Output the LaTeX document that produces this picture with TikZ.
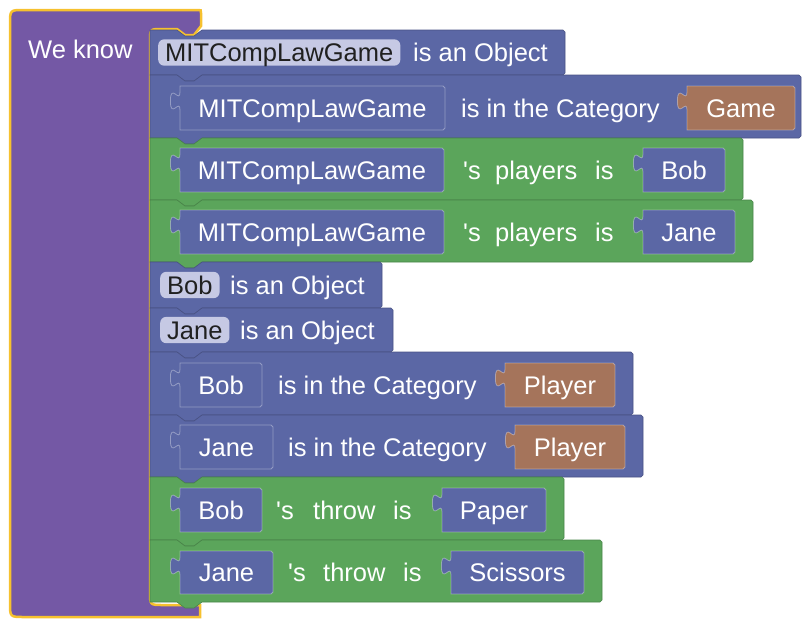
\documentclass[tikz,border=0pt]{standalone}
\usepackage{fontspec}
\setmainfont{Liberation Sans}
\definecolor{kpurple}{HTML}{7458A5}
\definecolor{kyellow}{HTML}{F6C12F}
\definecolor{kblue}{HTML}{5B67A5}
\definecolor{kgreen}{HTML}{5BA55B}
\definecolor{kbrown}{HTML}{A5745B}
\definecolor{kpill}{HTML}{C6C9E4}
\definecolor{kdark}{HTML}{202020}
\newcommand\stmtblk[4]{%
  \draw[fill=#4, draw=#4!80!black, line width=0.6pt]
    (150,#1) -- (177,#1) -- (185,{#1+6}) -- (194,{#1+6}) -- (202,#1)
    -- ({#3-2},#1) -- (#3,{#1+2}) -- (#3,{#2-2}) -- ({#3-2},#2)
    -- (202,#2) -- (194,{#2+6}) -- (185,{#2+6}) -- (177,#2) -- (150,#2) -- cycle;}
\newcommand\valblk[5]{%
  \draw[fill=#5, draw=white, draw opacity=0.35, line width=0.8pt]
    (#1,#3) -- (#1,{#3+6})
    .. controls (#1,{#3+18}) and ({#1-9.6},{#3-3.6}) .. ({#1-9.6},{#3+15})
    .. controls ({#1-9.6},{#3+33.6}) and (#1,{#3+12}) .. (#1,{#3+24})
    -- (#1,#4) -- ({#2-2},#4) -- (#2,{#4-2}) -- (#2,{#3+2}) -- ({#2-2},#3) -- cycle;}
\begin{document}
\begin{tikzpicture}[x=1pt,y=-1pt,
  font=\fontsize{25.5}{30}\selectfont,
  lbl/.style={text=white, text height=18.3pt, text depth=0pt, inner sep=0pt},
  lblw/.style={lbl, anchor=west},
  pill/.style={fill=kpill, text=kdark, rounded corners=6pt, text height=18.3pt,
    text depth=0pt, inner xsep=7pt, inner ysep=4pt, minimum height=26pt, anchor=west}]
\useasboundingbox (0,0) rectangle (802,619);
% outer "We know" block
\draw[fill=kpurple, draw=kyellow, line width=2.5pt]
  (10,24) .. controls (10,10) .. (24,10) -- (198,10) .. controls (201,10) .. (201,13)
  -- (201,26) -- (194,35) -- (185,35) -- (177,29) -- (162,29)
  .. controls (150,29) .. (150,41) -- (150,592) .. controls (150,605) .. (163,605)
  -- (200,605) -- (200,617) -- (24,617) .. controls (10,617) .. (10,603) -- cycle;
\node[lblw] (weknow) at (28,49.5) {We know};
% statement blocks
\stmtblk{30}{75}{565}{kblue}
\stmtblk{75}{138}{801}{kblue}
\stmtblk{138}{200}{743}{kgreen}
\stmtblk{200}{262}{753}{kgreen}
\stmtblk{262}{308}{382}{kblue}
\stmtblk{308}{352}{393}{kblue}
\stmtblk{352}{415}{633}{kblue}
\stmtblk{415}{477}{643}{kblue}
\stmtblk{477}{540}{564}{kgreen}
\stmtblk{540}{602}{602}{kgreen}
% row 1
\node[pill] (p1) at (158,52.5) {MITCompLawGame};
\node[lblw] (t1) at (413,52.5) {is an Object};
% row 2
\valblk{180}{445}{86}{130}{kblue}
\node[lbl] (v2a) at (312.5,108) {MITCompLawGame};
\node[lblw] (t2) at (461,108) {is in the Category};
\valblk{687}{795}{86}{130}{kbrown}
\node[lbl] (v2b) at (741,108) {Game};
% row 3
\valblk{180}{444}{148}{192}{kblue}
\node[lbl] (v3a) at (312,170) {MITCompLawGame};
\node[lblw] (t3a) at (463,170) {\textquotesingle s};
\node[lblw] (t3b) at (495,170) {players};
\node[lblw] (t3c) at (595,170) {is};
\valblk{643}{725}{148}{192}{kblue}
\node[lbl] (v3b) at (684,170) {Bob};
% row 4
\valblk{180}{444}{210}{254}{kblue}
\node[lbl] (v4a) at (312,232) {MITCompLawGame};
\node[lblw] (t4a) at (463,232) {\textquotesingle s};
\node[lblw] (t4b) at (495,232) {players};
\node[lblw] (t4c) at (595,232) {is};
\valblk{643}{735}{210}{254}{kblue}
\node[lbl] (v4b) at (689,232) {Jane};
% row 5
\node[pill] (p5) at (160,285) {Bob};
\node[lblw] (t5) at (230,285) {is an Object};
% row 6
\node[pill] (p6) at (160,330) {Jane};
\node[lblw] (t6) at (240,330) {is an Object};
% row 7
\valblk{180}{262}{363}{407}{kblue}
\node[lbl] (v7a) at (221,385) {Bob};
\node[lblw] (t7) at (278,385) {is in the Category};
\valblk{505}{615}{363}{407}{kbrown}
\node[lbl] (v7b) at (560,385) {Player};
% row 8
\valblk{180}{273}{425}{469}{kblue}
\node[lbl] (v8a) at (226.5,447) {Jane};
\node[lblw] (t8) at (288,447) {is in the Category};
\valblk{515}{625}{425}{469}{kbrown}
\node[lbl] (v8b) at (570,447) {Player};
% row 9
\valblk{180}{262}{488}{532}{kblue}
\node[lbl] (v9a) at (221,510) {Bob};
\node[lblw] (t9a) at (276,510) {\textquotesingle s};
\node[lblw] (t9b) at (313,510) {throw};
\node[lblw] (t9c) at (393,510) {is};
\valblk{442}{546}{488}{532}{kblue}
\node[lbl] (v9b) at (494,510) {Paper};
% row 10
\valblk{180}{273}{551}{594}{kblue}
\node[lbl] (v10a) at (226.5,572.5) {Jane};
\node[lblw] (t10a) at (288,572.5) {\textquotesingle s};
\node[lblw] (t10b) at (323,572.5) {throw};
\node[lblw] (t10c) at (403,572.5) {is};
\valblk{451}{584}{551}{594}{kblue}
\node[lbl] (v10b) at (517.5,572.5) {Scissors};
\end{tikzpicture}
\end{document}
